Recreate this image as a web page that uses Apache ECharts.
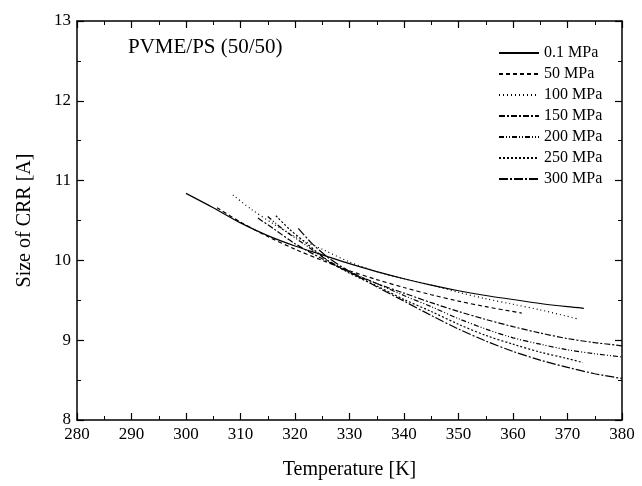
<!DOCTYPE html>
<html>
<head>
<meta charset="utf-8">
<script src="https://cdn.jsdelivr.net/npm/echarts@6/dist/echarts.min.js"></script>
<style>
  html, body { margin: 0; padding: 0; background: #fff; }
  #main { width: 642px; height: 486px; }
</style>
</head>
<body>
<div id="main"></div>
<script>
// values (temperature [K] / size of CRR [A])
var names = ["0.1 MPa", "50 MPa", "100 MPa", "150 MPa", "200 MPa", "250 MPa", "300 MPa"];

var temp01 = [300, 305, 310, 315, 320, 325, 330, 335, 340, 345, 350, 355, 360, 365, 370, 373];
var size01 = [10.84, 10.66, 10.47, 10.31, 10.18, 10.07, 9.96, 9.86, 9.77, 9.69, 9.62, 9.56, 9.51, 9.46, 9.42, 9.40];

var temp50 = [305.7, 310, 315, 320, 325, 330, 335, 340, 345, 350, 355, 361.6];
var size50 = [10.66, 10.48, 10.30, 10.14, 10.00, 9.87, 9.76, 9.66, 9.57, 9.49, 9.42, 9.34];

var temp100 = [308.6, 312, 316, 320, 325, 330, 335, 340, 345, 350, 355, 360, 365, 371.7];
var size100 = [10.82, 10.64, 10.46, 10.30, 10.14, 9.98, 9.86, 9.77, 9.69, 9.60, 9.52, 9.45, 9.38, 9.27];

var temp150 = [313.2, 316, 320, 325, 330, 335, 340, 345, 350, 355, 360, 365, 370, 375, 380];
var size150 = [10.53, 10.40, 10.21, 10.02, 9.85, 9.71, 9.59, 9.47, 9.36, 9.26, 9.17, 9.09, 9.02, 8.97, 8.93];

var temp200 = [315, 318, 322, 326, 330, 335, 340, 345, 350, 355, 360, 365, 370, 375, 380];
var size200 = [10.55, 10.38, 10.19, 10.00, 9.86, 9.71, 9.56, 9.42, 9.27, 9.14, 9.03, 8.95, 8.88, 8.83, 8.79];

var temp250 = [316.5, 319, 322, 326, 330, 335, 340, 345, 350, 355, 360, 365, 370, 372.8];
var size250 = [10.56, 10.39, 10.22, 10.00, 9.84, 9.68, 9.51, 9.36, 9.20, 9.06, 8.95, 8.85, 8.77, 8.72];

var temp300 = [320.6, 323, 326, 330, 335, 340, 345, 350, 355, 360, 365, 370, 375, 380];
var size300 = [10.40, 10.22, 10.04, 9.86, 9.67, 9.49, 9.31, 9.14, 8.99, 8.86, 8.75, 8.66, 8.58, 8.52];

var temps = [temp01, temp50, temp100, temp150, temp200, temp250, temp300];
var sizes = [size01, size50, size100, size150, size200, size250, size300];
var dashes = ['solid', [4, 3], [1, 3], [6, 2, 2, 2], [5, 2, 1, 2, 1, 2], [2, 2], [9, 2, 2, 2]];

var serif = 'Liberation Serif';

function pairs(t, s) {
    var out = [];
    for (var i = 0; i < t.length; i ++)
        out.push([t[i], s[i]]);
    return out;
}

var series = [];
for (var i = 0; i < names.length; i ++) {
    series.push({
        type: 'line',
        name: names[i],
        data: pairs(temps[i], sizes[i]),
        smooth: 0.3,
        symbol: 'none',
        lineStyle: { color: '#000', width: 1.2, type: dashes[i] },
        itemStyle: { color: '#000' }
    });
}

var tickStyle = { show: true, inside: true, length: 7, lineStyle: { color: '#000', width: 1.2 } };
var minorStyle = { show: true, splitNumber: 2, length: 4, lineStyle: { color: '#000', width: 1 } };
var lineAxis = { show: true, lineStyle: { color: '#000', width: 1.5 } };

var option = {
    animation: false,
    backgroundColor: '#fff',
    title: {
        text: 'PVME/PS (50/50)',
        left: 123, top: 32,
        textStyle: { fontFamily: serif, fontSize: 21, fontWeight: 'normal', color: '#000' }
    },
    legend: {
        orient: 'vertical',
        left: 493, top: 40,
        itemWidth: 40, itemHeight: 14, itemGap: 5,
        itemStyle: { opacity: 0 },
        textStyle: { fontFamily: serif, fontSize: 16, color: '#000' },
        data: names
    },
    grid: { left: 77, right: 20, top: 21, bottom: 66 },
    xAxis: [{
        type: 'value', min: 280, max: 380, interval: 10,
        name: 'Temperature [K]', nameLocation: 'middle', nameGap: 40,
        nameTextStyle: { fontFamily: serif, fontSize: 20, color: '#000' },
        axisLine: lineAxis, axisTick: tickStyle, minorTick: minorStyle,
        axisLabel: { fontFamily: serif, fontSize: 17, color: '#000', margin: 6 },
        splitLine: { show: false }
    }, {
        type: 'value', min: 280, max: 380, interval: 10, position: 'top',
        axisLine: lineAxis, axisTick: tickStyle, minorTick: minorStyle,
        axisLabel: { show: false }, splitLine: { show: false }
    }],
    yAxis: [{
        type: 'value', min: 8, max: 13, interval: 1,
        name: 'Size of CRR [A]', nameLocation: 'middle', nameGap: 42,
        nameTextStyle: { fontFamily: serif, fontSize: 20, color: '#000' },
        axisLine: lineAxis, axisTick: tickStyle, minorTick: minorStyle,
        axisLabel: { fontFamily: serif, fontSize: 17, color: '#000', margin: 6 },
        splitLine: { show: false }
    }, {
        type: 'value', min: 8, max: 13, interval: 1, position: 'right',
        axisLine: lineAxis, axisTick: tickStyle, minorTick: minorStyle,
        axisLabel: { show: false }, splitLine: { show: false }
    }],
    series: series
};

var chart = echarts.init(document.getElementById('main'));
chart.setOption(option);
</script>
</body>
</html>
